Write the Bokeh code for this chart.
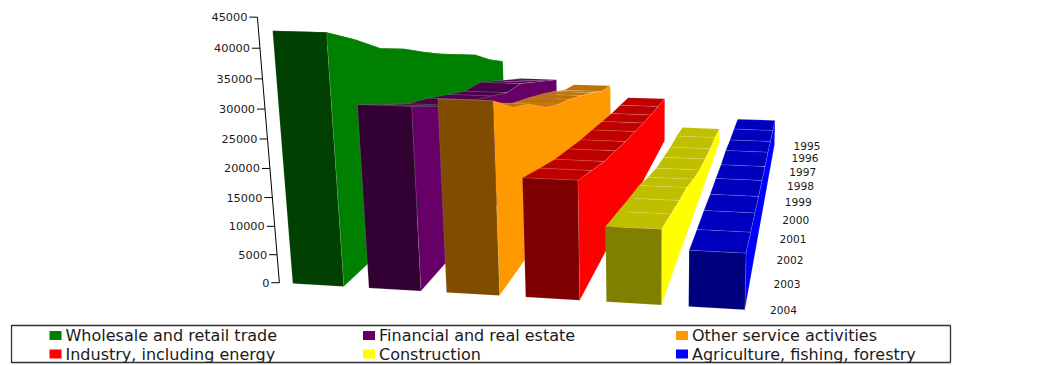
from bokeh.embed import file_html
from bokeh.models import ColumnDataSource, Range1d
from bokeh.plotting import figure
from bokeh.resources import INLINE
from bokeh.core.properties import value

# Value added by sector, 1995-2004
years = ["1995", "1996", "1997", "1998", "1999", "2000", "2001", "2002", "2003", "2004"]
wholesale = [18620, 21190, 24440, 26670, 28860, 31340, 34040, 36140, 39740, 42870]
financial = [14410, 16480, 18540, 20630, 21100, 22930, 24710, 26230, 28710, 31300]
other_services = [13310, 14370, 16560, 18430, 20150, 21720, 23800, 26970, 29020, 32680]
industry = [10510, 11240, 11910, 12850, 13830, 14700, 15890, 17020, 18620, 20280]
construction = [3510, 4270, 4650, 5400, 6200, 7600, 9350, 10400, 11600, 12800]
agriculture = [6100, 6480, 6830, 7450, 7510, 7950, 8240, 8750, 9090, 9530]
value_ticks = [0, 5000, 10000, 15000, 20000, 25000, 30000, 35000, 40000, 45000]

sector_names = ["Wholesale and retail trade", "Financial and real estate", "Other service activities",
                "Industry, including energy", "Construction", "Agriculture, fishing, forestry"]
sector_values = [wholesale, financial, other_services, industry, construction, agriculture]
sector_colors = [(0, 128, 0), (102, 0, 102), (255, 153, 0), (255, 0, 0), (255, 255, 0), (0, 0, 255)]

VALUE_MAX = 45000
BAR_WIDTH = 0.672
FONT = "DejaVu Sans"


def project(x, v, z):
    """Perspective projection of (sector slot, value, depth 0..1) onto the page."""
    y = v / VALUE_MAX
    w = 1 - 0.0094 * x - 0.0563 * y + 0.491 * z
    px = (72.7 * x - 36.5 * y + 408 * z + 292.3) / w
    py = (1.72 * x - 266.96 * y - 85 * z + 283) / w
    return px, py


def shade(rgb, factor):
    return "#%02x%02x%02x" % tuple(int(c * factor) for c in rgb)


def depth(i):
    return (len(years) - 1 - i) / (len(years) - 1)


poly_x, poly_y, poly_fill = [], [], []


def add_poly(corners, fill):
    xs, ys = zip(*[project(*c) for c in corners])
    poly_x.append(list(xs))
    poly_y.append(list(ys))
    poly_fill.append(fill)


for slot, (series, rgb) in enumerate(zip(sector_values, sector_colors)):
    left, right = slot, slot + BAR_WIDTH
    # roof first, one strip per year step; strips that tilt away end up behind the wall
    for i in range(len(years) - 1):
        add_poly([(left, series[i], depth(i)), (right, series[i], depth(i)),
                  (right, series[i + 1], depth(i + 1)), (left, series[i + 1], depth(i + 1))],
                 shade(rgb, 0.75))
    # right-hand wall, from the oldest year at the back to the newest at the front
    wall = [(right, series[i], depth(i)) for i in range(len(years))]
    add_poly([(right, 0, 1)] + wall + [(right, 0, 0)], shade(rgb, 1.0))
    # front face at the newest year
    add_poly([(left, 0, 0), (right, 0, 0), (right, series[-1], 0), (left, series[-1], 0)], shade(rgb, 0.5))

p = figure(width=1043, height=365, x_range=Range1d(0, 1043), y_range=Range1d(365, 0),
           output_backend="svg", toolbar_location=None, min_border=0)
p.axis.visible = False
p.grid.visible = False
p.outline_line_color = None

p.patches("x", "y", fill_color="fill", line_color="#ffffff", line_alpha=0.2, line_width=0.6,
          source=ColumnDataSource(dict(x=poly_x, y=poly_y, fill=poly_fill)))

# slanted value axis
AXIS_SLOT = -0.178
ax0, ay0 = project(AXIS_SLOT, 0, 0)
ax1, ay1 = project(AXIS_SLOT, VALUE_MAX, 0)
p.line([ax0, ax1], [ay0, ay1], line_color="#000000", line_width=1)
tick_pts = [project(AXIS_SLOT, v, 0) for v in value_ticks]
p.segment([t[0] - 8 for t in tick_pts], [t[1] for t in tick_pts],
          [t[0] for t in tick_pts], [t[1] for t in tick_pts], line_color="#000000", line_width=1)
p.text([t[0] - 10 for t in tick_pts], [t[1] for t in tick_pts], text=[str(v) for v in value_ticks],
       text_align="right", text_baseline="middle", text_font=value(FONT), text_font_size="11.3px",
       text_color="#1a1a1a")

# year labels along the depth axis
YEAR_SLOT = 6.13
year_pts = [project(YEAR_SLOT, 0, depth(i)) for i in range(len(years))]
p.text([pt[0] + 7 * depth(i) for i, pt in enumerate(year_pts)], [pt[1] + 2 * depth(i) - 2 for i, pt in enumerate(year_pts)],
       text=years, text_align="center", text_baseline="middle", text_font=value(FONT), text_font_size="10.6px",
       text_color="#1a1a1a")

# legend, two rows by three columns
p.quad(left=[11], right=[950], top=[325], bottom=[362], fill_color="#ffffff", line_color="#333333", line_width=1.3)
col_x = [49, 362.5, 675.5]
row_y = [335, 353.5]
swatch_l, swatch_t = [], []
for k in range(len(sector_names)):
    swatch_l.append(col_x[k % 3])
    swatch_t.append(row_y[k // 3])
p.quad(left=swatch_l, right=[s + 12 for s in swatch_l], top=[t - 4.5 for t in swatch_t],
       bottom=[t + 4.5 for t in swatch_t], fill_color=[shade(c, 1.0) for c in sector_colors], line_color=None)
p.text([s + 16 for s in swatch_l], swatch_t, text=sector_names, text_baseline="middle",
       text_font=value(FONT), text_font_size="16px", text_color="#1a1a1a")

open("out.html", "w").write(file_html(p, INLINE))
